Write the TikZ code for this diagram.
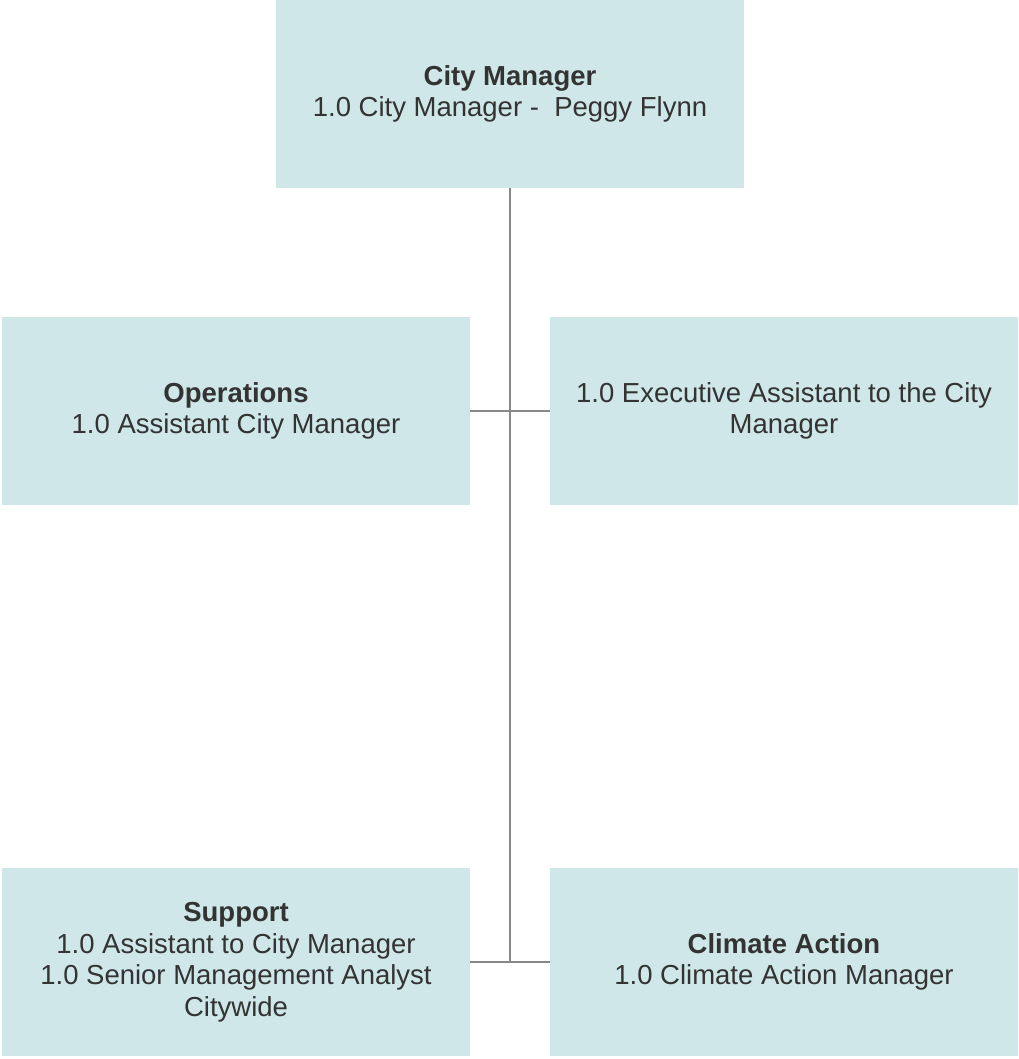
\documentclass[tikz,border=0pt]{standalone}
\usepackage{fontspec}
\setmainfont{Liberation Sans}
\definecolor{boxfill}{HTML}{CFE7E8}
\definecolor{textgray}{HTML}{333333}
\definecolor{linegray}{HTML}{888888}
\tikzset{
  box/.style={fill=boxfill, draw=none, minimum width=468pt, minimum height=188pt,
    align=center, font=\fontsize{27.5}{31.5}\selectfont, text=textgray, inner sep=0pt},
  conn/.style={draw=linegray, line width=2pt}
}
\begin{document}
\begin{tikzpicture}[x=1pt,y=-1pt]
\useasboundingbox (0,0) rectangle (1018,1059);
\node[box] (cm) at (510,94) {\textbf{City Manager}\\1.0 City Manager -\ \ Peggy Flynn};
\node[box] (ops) at (236,411) {\textbf{Operations}\\1.0 Assistant City Manager};
\node[box] (exec) at (784,411) {1.0 Executive Assistant to the City\\Manager};
\node[box] (sup) at (236,962) {\textbf{Support}\\1.0 Assistant to City Manager\\1.0 Senior Management Analyst\\Citywide};
\node[box] (clim) at (784,962) {\textbf{Climate Action}\\1.0 Climate Action Manager};
\coordinate (jb) at (cm.south |- sup.east);
\draw[conn] (cm.south) -- (jb);
\draw[conn] (ops.east) -- (exec.west);
\draw[conn] (sup.east) -- (clim.west);
\end{tikzpicture}
\end{document}
